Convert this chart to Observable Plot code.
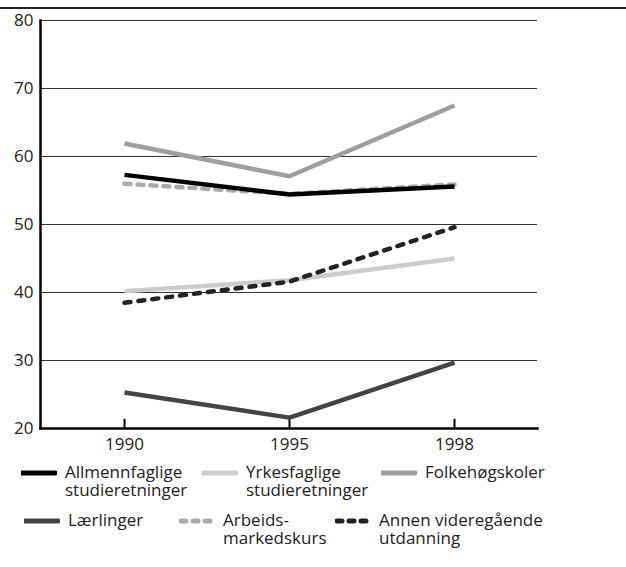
<!DOCTYPE html>
<html>
<head>
<meta charset="utf-8">
<script src="https://cdn.jsdelivr.net/npm/d3@7"></script>
<script src="https://cdn.jsdelivr.net/npm/@observablehq/plot@0.6"></script>
<style>
  html, body { margin: 0; padding: 0; background: #fff; font-family: "Open Sans", sans-serif; overflow: hidden; }
  #wrap { position: relative; width: 626px; height: 567px; overflow: hidden; }
  #topline { position: absolute; left: 0; top: 7px; width: 626px; height: 1.5px; background: #222; }
  #chart { position: absolute; left: 0; top: 0; }
  #chart svg { display: block; }
  .item { position: absolute; display: flex; align-items: flex-start; font-size: 17px; line-height: 18px; color: #222; }
  .item svg { flex: none; }
</style>
</head>
<body>
<div id="wrap">
  <div id="topline"></div>
  <div id="chart"></div>
</div>
<script>
// ---- data ----
const years = ["1990", "1995", "1998"];
const yTicks = [20, 30, 40, 50, 60, 70, 80];
const gridTicks = [30, 40, 50, 60, 70, 80];

const seriesNames = [
  "Allmennfaglige studieretninger",
  "Yrkesfaglige studieretninger",
  "Folkehøgskoler",
  "Lærlinger",
  "Arbeidsmarkedskurs",
  "Annen videregående utdanning"
];
const legendLines = [
  ["Allmennfaglige", "studieretninger"],
  ["Yrkesfaglige", "studieretninger"],
  ["Folkehøgskoler"],
  ["Lærlinger"],
  ["Arbeids-", "markedskurs"],
  ["Annen videregående", "utdanning"]
];
const allmennfaglige = [57.3, 54.4, 55.6];
const yrkesfaglige = [40.2, 41.8, 45.0];
const folkehogskoler = [61.9, 57.1, 67.5];
const laerlinger = [25.3, 21.6, 29.7];
const arbeidsmarkedskurs = [56.0, 54.5, 55.9];
const annen = [38.5, 41.6, 49.6];

// ---- styles ----
const seriesValues = [allmennfaglige, yrkesfaglige, folkehogskoler, laerlinger, arbeidsmarkedskurs, annen];
const colors = ["#000000", "#cccccc", "#9e9e9e", "#444444", "#aaaaaa", "#222222"];
const dashes = [null, null, null, null, "6,7", "6,8"];
const drawOrder = [4, 0, 1, 2, 3, 5];

const rows = [];
seriesValues.forEach((vals, s) => vals.forEach((v, i) => rows.push({series: seriesNames[s], idx: s, year: years[i], value: v})));

const lineMarks = drawOrder.map(s => Plot.line(rows.filter(r => r.idx === s), {
  x: "year", y: "value",
  stroke: colors[s], strokeWidth: 4.5,
  strokeDasharray: dashes[s] || undefined,
  strokeLinecap: dashes[s] ? "round" : "butt",
  strokeLinejoin: "miter"
}));

const chart = Plot.plot({
  width: 626,
  height: 460,
  marginLeft: 40,
  marginRight: 89,
  marginTop: 20,
  marginBottom: 32,
  style: {fontFamily: "Open Sans", fontSize: "17px", color: "#222", background: "transparent"},
  x: {type: "point", domain: years, padding: 0.5, tickSize: 0, tickPadding: 9, label: null},
  y: {domain: [20, 80], ticks: yTicks, tickSize: 0, tickPadding: 7, label: null},
  marks: [
    Plot.ruleY(gridTicks, {stroke: "#333", strokeWidth: 1}),
    Plot.ruleX(years, {x: d => d, y1: 20, y2: 21.35, stroke: "#000", strokeWidth: 2}),
    Plot.frame({anchor: "left", stroke: "#000", strokeWidth: 2.5}),
    Plot.frame({anchor: "bottom", stroke: "#000", strokeWidth: 2.5}),
    ...lineMarks
  ]
});
document.getElementById("chart").appendChild(chart);

// ---- legend (HTML, below the SVG) ----
const legendPos = [
  {left: 21, top: 463}, {left: 202, top: 463}, {left: 381, top: 463},
  {left: 24, top: 511}, {left: 179, top: 511}, {left: 335, top: 511}
];
const wrap = document.getElementById("wrap");
legendLines.forEach((lines, s) => {
  const item = document.createElement("div");
  item.className = "item";
  item.style.left = legendPos[s].left + "px";
  item.style.top = legendPos[s].top + "px";
  const ns = "http://www.w3.org/2000/svg";
  const sw = document.createElementNS(ns, "svg");
  sw.setAttribute("width", 36);
  sw.setAttribute("height", 18);
  sw.style.marginRight = "8px";
  const ln = document.createElementNS(ns, "line");
  ln.setAttribute("x1", dashes[s] ? 2 : 0);
  ln.setAttribute("x2", dashes[s] ? 32 : 34);
  ln.setAttribute("y1", 10);
  ln.setAttribute("y2", 10);
  ln.setAttribute("stroke", colors[s]);
  ln.setAttribute("stroke-width", 5);
  ln.setAttribute("stroke-linecap", "round");
  if (dashes[s]) ln.setAttribute("stroke-dasharray", "5,7");
  sw.appendChild(ln);
  item.appendChild(sw);
  const txt = document.createElement("div");
  txt.innerHTML = lines.join("<br>");
  item.appendChild(txt);
  wrap.appendChild(item);
});
</script>
</body>
</html>
